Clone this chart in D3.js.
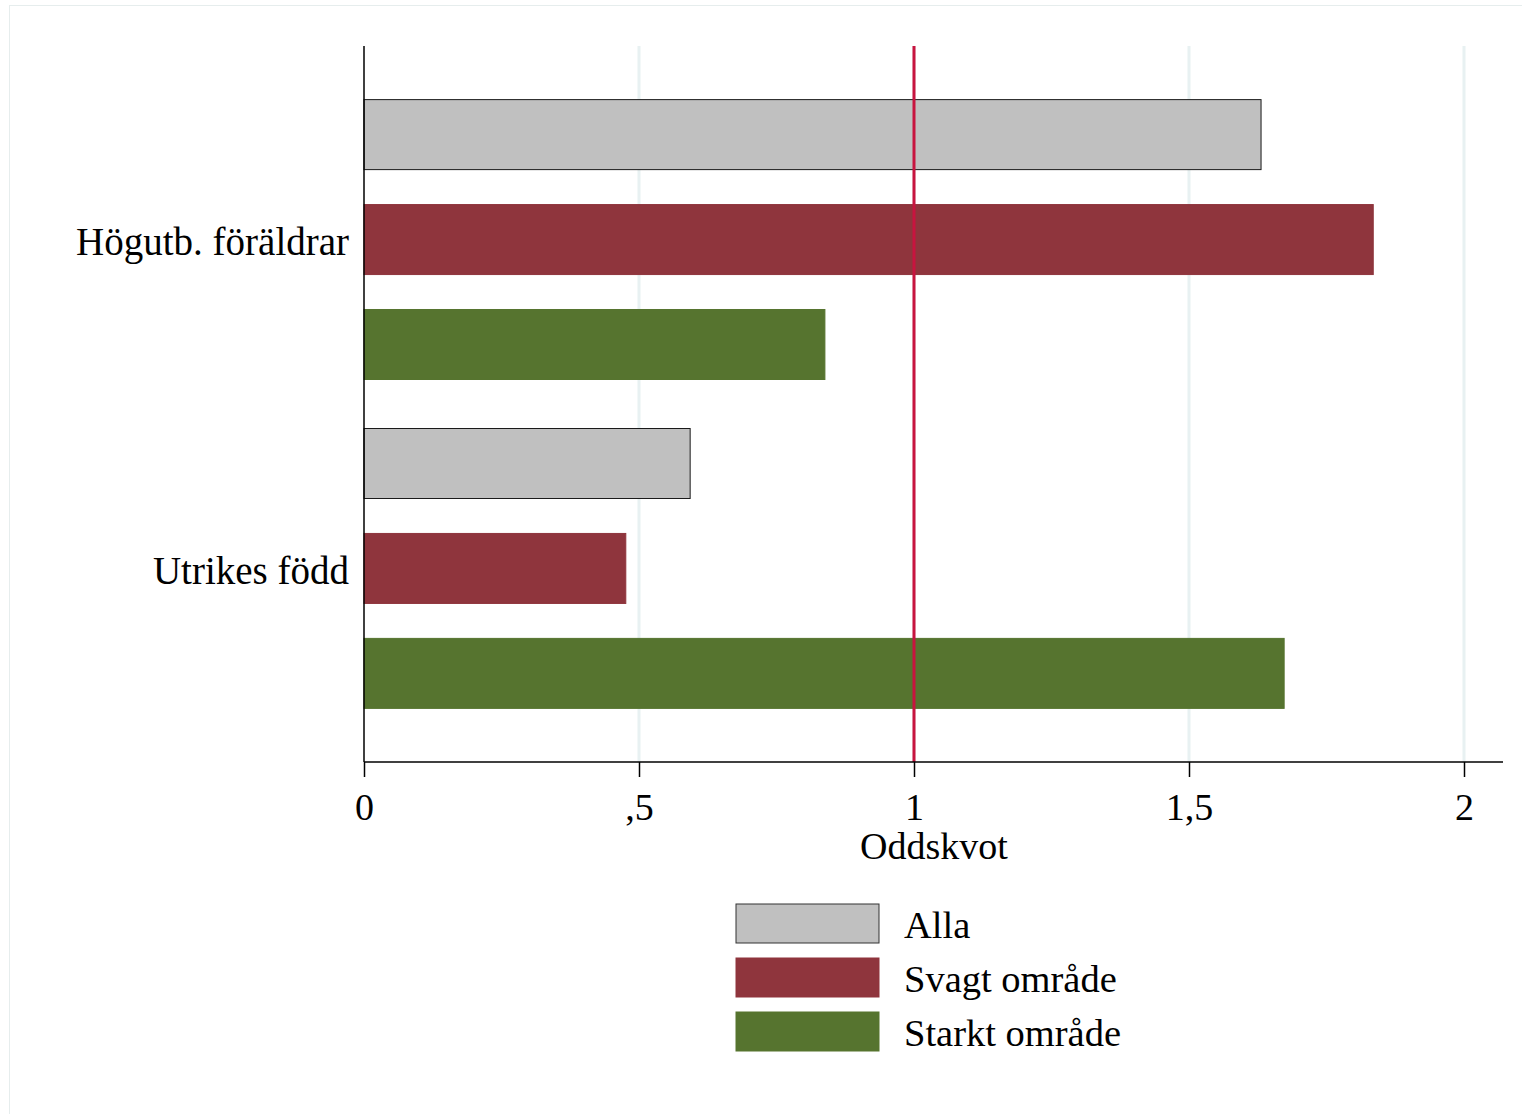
<!DOCTYPE html>
<html>
<head>
<meta charset="utf-8">
<script src="https://cdn.jsdelivr.net/npm/d3@7"></script>
<style>
  body { margin: 0; background: #fff; }
  svg text { font-family: "Liberation Serif", "Times New Roman", serif; fill: #000; }
</style>
</head>
<body>
<div id="chart"></div>
<script>
// data
const categories = ["Högutb. föräldrar", "Utrikes född"];
const seriesNames = ["Alla", "Svagt område", "Starkt område"];
const alla = [1.631, 0.593];
const svagt = [1.835, 0.476];
const starkt = [0.838, 1.673];
const xTicks = [0, 0.5, 1, 1.5, 2];
const xTickLabels = ["0", ",5", "1", "1,5", "2"];
const refLine = 1;

const colors = ["#c0c0c0", "#8f353d", "#56742f"];
const strokes = ["#1a1a1a", "#8f353d", "#56742f"];

const W = 1522, H = 1114;
const svg = d3.select("#chart").append("svg")
  .attr("width", W).attr("height", H);

// faint outer frame
svg.append("rect")
  .attr("x", 9.5).attr("y", 5.5)
  .attr("width", W).attr("height", H)
  .attr("fill", "none")
  .attr("stroke", "#e6eded")
  .attr("stroke-width", 1);

const plotLeft = 364, plotTop = 46, plotBottom = 762, axisEnd = 1503;

const x = d3.scaleLinear().domain([0, 2]).range([plotLeft, 1464]);
const y0 = d3.scaleBand().domain(categories).range([plotTop, plotBottom])
  .paddingInner(0.149).paddingOuter(0.163);
const y1 = d3.scaleBand().domain(seriesNames).range([0, y0.bandwidth()])
  .paddingInner(0.333).paddingOuter(0);

// gridlines
svg.append("g").selectAll("line")
  .data(xTicks.filter(t => t > 0))
  .join("line")
  .attr("x1", d => x(d)).attr("x2", d => x(d))
  .attr("y1", plotTop).attr("y2", plotBottom)
  .attr("stroke", "#e8f1f2")
  .attr("stroke-width", 3);

// bars
const rows = categories.map((c, i) => ({
  cat: c,
  vals: [alla[i], svagt[i], starkt[i]]
}));

const groups = svg.append("g").selectAll("g")
  .data(rows)
  .join("g")
  .attr("transform", d => `translate(0,${y0(d.cat)})`);

groups.selectAll("rect")
  .data(d => d.vals.map((v, j) => ({ name: seriesNames[j], v, j })))
  .join("rect")
  .attr("x", x(0))
  .attr("y", d => y1(d.name))
  .attr("width", d => x(d.v) - x(0))
  .attr("height", y1.bandwidth())
  .attr("fill", d => colors[d.j])
  .attr("stroke", d => strokes[d.j])
  .attr("stroke-width", 1);

// reference line at 1
svg.append("line")
  .attr("x1", x(refLine)).attr("x2", x(refLine))
  .attr("y1", plotTop).attr("y2", plotBottom)
  .attr("stroke", "#c8143f")
  .attr("stroke-width", 3);

// y axis line
svg.append("line")
  .attr("x1", plotLeft).attr("x2", plotLeft)
  .attr("y1", plotTop).attr("y2", plotBottom)
  .attr("stroke", "#000").attr("stroke-width", 1.5);

// x axis
const xAxis = d3.axisBottom(x)
  .tickValues(xTicks)
  .tickFormat((d, i) => xTickLabels[i])
  .tickSize(15)
  .tickSizeOuter(0)
  .tickPadding(16);

const gx = svg.append("g")
  .attr("transform", `translate(0,${plotBottom})`)
  .call(xAxis);
gx.select(".domain").remove();
gx.selectAll(".tick line").attr("stroke", "#000").attr("stroke-width", 1.5);
gx.selectAll(".tick text")
  .style("font-family", "'Liberation Serif', 'Times New Roman', serif")
  .style("font-size", "38px")
  .attr("fill", "#000");

svg.append("line")
  .attr("x1", plotLeft).attr("x2", axisEnd)
  .attr("y1", plotBottom).attr("y2", plotBottom)
  .attr("stroke", "#000").attr("stroke-width", 1.5);

// axis title
svg.append("text")
  .attr("x", 934).attr("y", 859)
  .attr("text-anchor", "middle")
  .style("font-size", "38px")
  .text("Oddskvot");

// category labels
svg.append("g").selectAll("text")
  .data(categories)
  .join("text")
  .attr("x", 349)
  .attr("y", d => y0(d) + y0.bandwidth() / 2 + 2)
  .attr("dy", "0.35em")
  .attr("text-anchor", "end")
  .style("font-size", "39px")
  .text(d => d);

// legend
const legend = svg.append("g").attr("transform", "translate(736,904)");
const li = legend.selectAll("g")
  .data(seriesNames)
  .join("g")
  .attr("transform", (d, i) => `translate(0,${i * 54})`);
li.append("rect")
  .attr("width", 143).attr("height", 39)
  .attr("fill", (d, i) => colors[i])
  .attr("stroke", (d, i) => i === 0 ? "#333" : colors[i])
  .attr("stroke-width", 1);
li.append("text")
  .attr("x", 168).attr("y", 34)
  .style("font-size", "38.5px")
  .text(d => d);
</script>
</body>
</html>
